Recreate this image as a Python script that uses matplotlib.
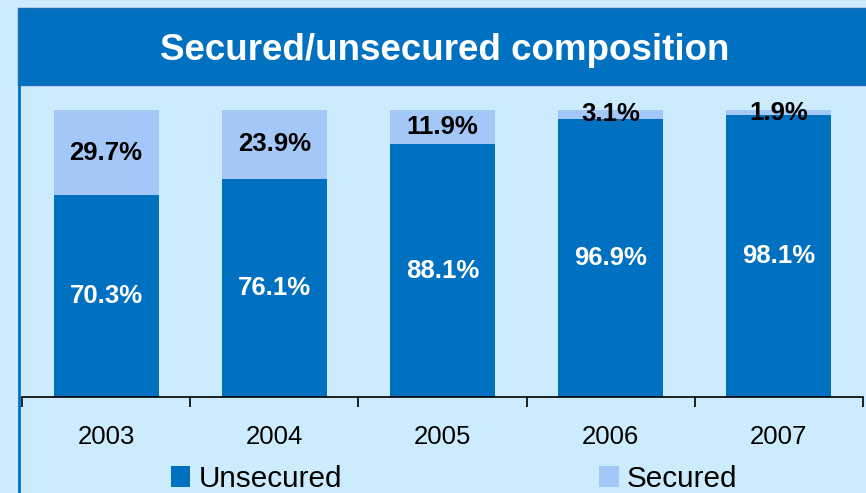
import matplotlib
matplotlib.use("Agg")
import matplotlib.pyplot as plt
from matplotlib.patches import Rectangle
import numpy as np

plt.rcParams['font.family'] = ['Liberation Sans', 'DejaVu Sans']

years = ["2003", "2004", "2005", "2006", "2007"]
unsecured = [70.3, 76.1, 88.1, 96.9, 98.1]
secured = [29.7, 23.9, 11.9, 3.1, 1.9]

BG = "#CCECFD"
DARK = "#0070C0"
LIGHT = "#A3C8F8"

W, H = 866, 493
fig = plt.figure(figsize=(W / 100, H / 100), dpi=100, facecolor=BG)

# title band
fig.patches.append(Rectangle((18 / W, 1 - 85 / H), 1 - 18 / W, 77 / H,
                             transform=fig.transFigure, facecolor=DARK,
                             edgecolor="#1F6BB5", linewidth=1))
fig.text(445 / W, 1 - 50 / H, "Secured/unsecured composition",
         color="white", fontsize=26.5, fontweight="bold", ha="center", va="center")
# left border line
fig.add_artist(plt.Line2D([18.5 / W, 18.5 / W], [0, 1 - 85 / H],
                          transform=fig.transFigure, color=DARK, linewidth=2))

ax = fig.add_axes([22 / W, (H - 397) / H, 841 / W, (397 - 110) / H])
ax.set_facecolor(BG)
x = np.arange(len(years))
b1 = ax.bar(x, unsecured, width=0.625, color=DARK, label="Unsecured")
b2 = ax.bar(x, secured, width=0.625, bottom=unsecured, color=LIGHT, label="Secured")

for xi, u, s in zip(x, unsecured, secured):
    ax.text(xi, u / 2, f"{u:.1f}%", ha="center", va="center", color="white",
            fontsize=18.5, fontweight="bold")
    ax.text(xi, u + s / 2, f"{s:.1f}%", ha="center", va="center", color="black",
            fontsize=18.5, fontweight="bold")

ax.set_xlim(-0.5, len(years) - 0.5)
ax.set_ylim(0, 100)
for sp in ["top", "right", "left"]:
    ax.spines[sp].set_visible(False)
ax.spines["bottom"].set_color("black")
ax.spines["bottom"].set_linewidth(1.2)
ax.set_yticks([])
ax.set_xticks(np.arange(len(years) + 1) - 0.5)
ax.set_xticklabels([])
ax.tick_params(axis="x", which="major", length=7, width=1.2, color="black")
ax.set_xticks(x, minor=True)
ax.set_xticklabels(years, minor=True, fontsize=18.5)
ax.tick_params(axis="x", which="minor", length=0, pad=20)

fig.legend([b1, b2], ["Unsecured", "Secured"], ncol=2, loc="center",
           bbox_to_anchor=(454 / W, 1 - 479 / H), frameon=False, fontsize=21.4,
           handlelength=0.67, handleheight=0.67, handletextpad=0.27,
           columnspacing=8.65, borderpad=0.1)

fig.savefig("out.png", dpi=100, facecolor=BG)
